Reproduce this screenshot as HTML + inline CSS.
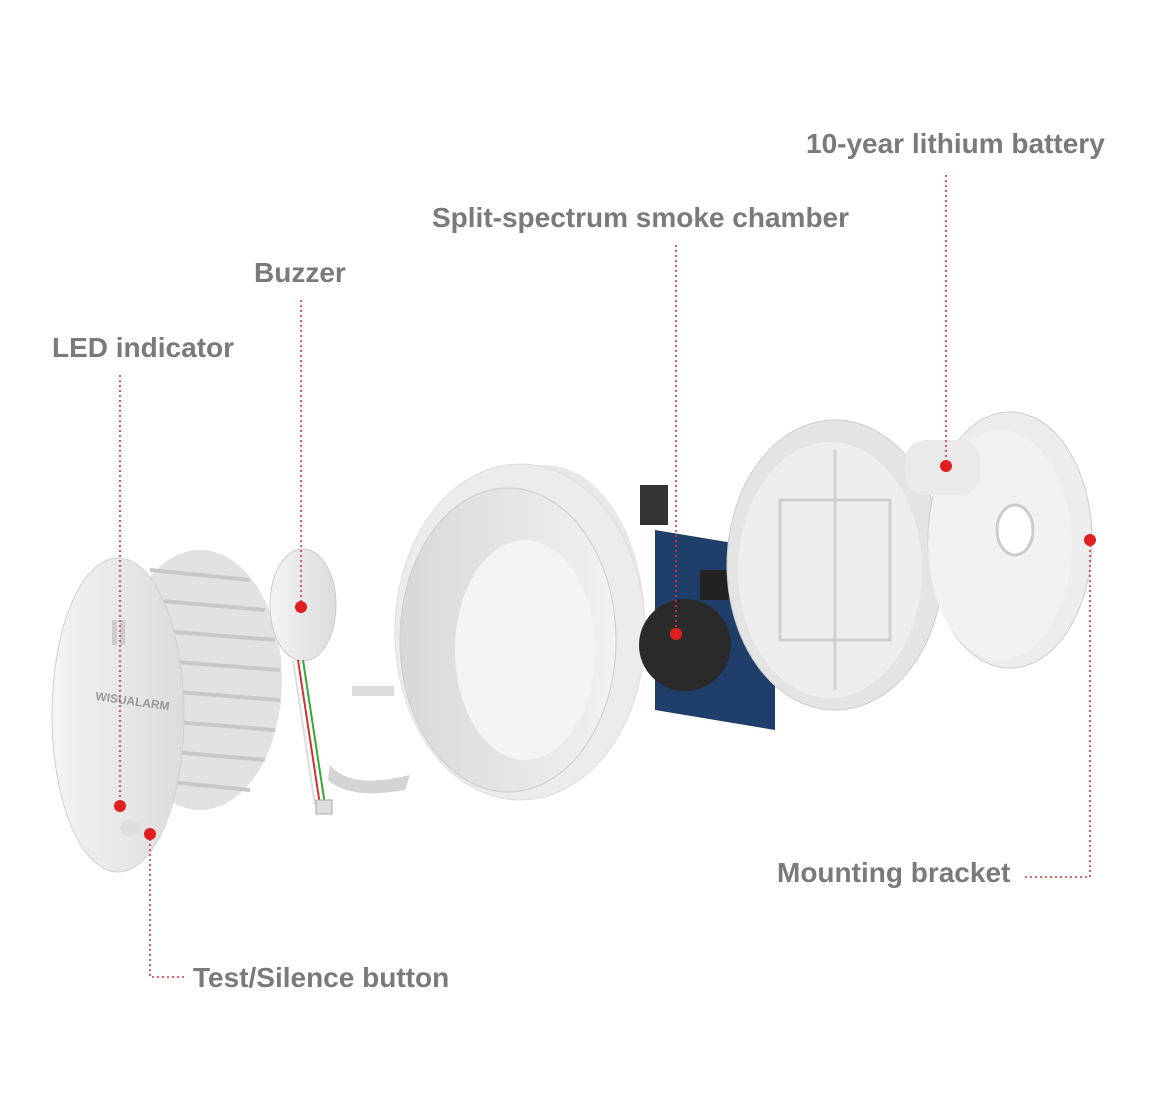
<!DOCTYPE html>
<html><head><meta charset="utf-8"><style>
html,body{margin:0;padding:0;background:#fff;width:1150px;height:1100px;overflow:hidden}
svg{display:block}
text{font-family:"Liberation Sans",sans-serif;font-size:28px;fill:#7a7a7a;font-weight:bold}
</style></head><body>
<svg width="1150" height="1100" viewBox="0 0 1150 1100">
<defs>
<linearGradient id="g1" x1="0" x2="1"><stop offset="0" stop-color="#f4f4f4"/><stop offset="1" stop-color="#dcdcdc"/></linearGradient>
<linearGradient id="g2" x1="0" x2="1"><stop offset="0" stop-color="#d8d8d8"/><stop offset="1" stop-color="#f2f2f2"/></linearGradient>
</defs>
<!-- front cover fins -->
<ellipse cx="200" cy="680" rx="82" ry="130" fill="#e2e2e2"/>
<g stroke="#c8c8c8" stroke-width="4">
<line x1="150" y1="570" x2="250" y2="580"/><line x1="150" y1="600" x2="265" y2="610"/><line x1="150" y1="630" x2="275" y2="640"/><line x1="150" y1="660" x2="280" y2="670"/><line x1="150" y1="690" x2="280" y2="700"/><line x1="150" y1="720" x2="275" y2="730"/><line x1="150" y1="750" x2="265" y2="760"/><line x1="150" y1="780" x2="250" y2="790"/>
</g>
<ellipse cx="118" cy="715" rx="66" ry="157" fill="url(#g1)" stroke="#d0d0d0"/>
<rect x="112" y="620" width="5" height="25" fill="#ccc"/><rect x="120" y="620" width="5" height="25" fill="#ccc"/>
<text x="95" y="700" style="font-size:12px;fill:#999" transform="rotate(8 95 700)">WISUALARM</text>
<ellipse cx="130" cy="828" rx="10" ry="8" fill="#ddd"/>
<!-- buzzer -->
<ellipse cx="303" cy="605" rx="33" ry="56" fill="url(#g1)" stroke="#ccc"/>
<line x1="298" y1="660" x2="320" y2="805" stroke="#c33" stroke-width="2"/>
<line x1="303" y1="660" x2="325" y2="805" stroke="#3a3" stroke-width="2"/>
<line x1="293" y1="660" x2="315" y2="805" stroke="#ddd" stroke-width="2"/>
<rect x="316" y="800" width="16" height="14" fill="#ddd" stroke="#aaa"/>
<rect x="352" y="686" width="42" height="10" fill="#ddd"/>
<path d="M330 765 Q350 790 410 775 L405 790 Q350 800 328 780Z" fill="#d4d4d4"/>
<!-- ring -->
<ellipse cx="545" cy="625" rx="100" ry="160" fill="#e8e8e8"/>
<ellipse cx="520" cy="632" rx="125" ry="168" fill="#ececec" stroke="#ddd"/>
<ellipse cx="508" cy="640" rx="108" ry="152" fill="url(#g2)" stroke="#ccc"/>
<ellipse cx="525" cy="650" rx="70" ry="110" fill="#f4f4f4"/>
<!-- PCB -->
<rect x="640" y="485" width="28" height="40" fill="#333"/>
<polygon points="655,530 775,550 775,730 655,710" fill="#1f3f6a"/>
<rect x="735" y="515" width="20" height="40" fill="#222"/>
<rect x="700" y="570" width="40" height="30" fill="#222"/>
<circle cx="685" cy="645" r="46" fill="#2a2a2a"/>
<!-- base housing -->
<ellipse cx="835" cy="565" rx="108" ry="145" fill="#e4e4e4" stroke="#ccc"/>
<ellipse cx="830" cy="570" rx="92" ry="128" fill="#eeeeee"/>
<g stroke="#cfcfcf" stroke-width="3" fill="none">
<rect x="780" y="500" width="110" height="140"/><line x1="835" y1="450" x2="835" y2="690"/>
</g>
<!-- bracket + battery -->
<ellipse cx="1010" cy="540" rx="82" ry="128" fill="#ededed" stroke="#ccc"/>
<ellipse cx="1000" cy="545" rx="72" ry="115" fill="#f2f2f2"/>
<rect x="905" y="440" width="75" height="55" rx="20" fill="#eaeaea"/>
<ellipse cx="1015" cy="530" rx="18" ry="25" fill="#fff" stroke="#ccc" stroke-width="3"/>
<!-- labels -->
<text x="806" y="153">10-year lithium battery</text>
<text x="432" y="227">Split-spectrum smoke chamber</text>
<text x="254" y="282">Buzzer</text>
<text x="52" y="357">LED indicator</text>
<text x="777" y="882">Mounting bracket</text>
<text x="193" y="987">Test/Silence button</text>
<!-- leaders -->
<g stroke="#d33" stroke-width="1.6" stroke-dasharray="2,3" fill="none">
<line x1="120" y1="375" x2="120" y2="806"/>
<line x1="301" y1="300" x2="301" y2="607"/>
<line x1="676" y1="245" x2="676" y2="634"/>
<line x1="946" y1="175" x2="946" y2="466"/>
<polyline points="1090,540 1090,877 1025,877"/>
<polyline points="150,834 150,977 185,977"/>
</g>
<g fill="#e02020">
<circle cx="120" cy="806" r="6"/><circle cx="150" cy="834" r="6"/><circle cx="301" cy="607" r="6"/>
<circle cx="676" cy="634" r="6"/><circle cx="946" cy="466" r="6"/><circle cx="1090" cy="540" r="6"/>
</g>
</svg>
</body></html>
